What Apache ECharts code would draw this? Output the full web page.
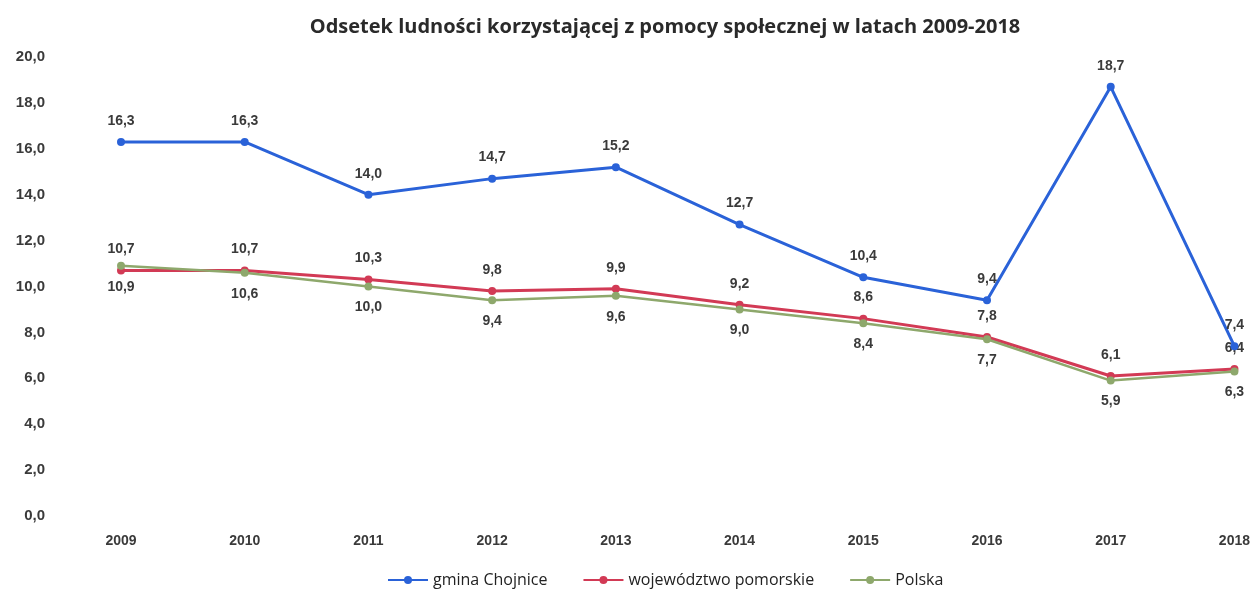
<!DOCTYPE html>
<html>
<head>
<meta charset="utf-8">
<script src="https://cdn.jsdelivr.net/npm/echarts@6/dist/echarts.min.js"></script>
<style>
  html, body { margin: 0; padding: 0; background: #fff; }
  #chart { width: 1253px; height: 589px; }
</style>
</head>
<body>
<div id="chart"></div>
<script>
const years = ['2009', '2010', '2011', '2012', '2013', '2014', '2015', '2016', '2017', '2018']
const gminaChojnice = [16.3, 16.3, 14.0, 14.7, 15.2, 12.7, 10.4, 9.4, 18.7, 7.4]
const wojPomorskie = [10.7, 10.7, 10.3, 9.8, 9.9, 9.2, 8.6, 7.8, 6.1, 6.4]
const polska = [10.9, 10.6, 10.0, 9.4, 9.6, 9.0, 8.4, 7.7, 5.9, 6.3]

const fmt = v => Number(v).toFixed(1).replace('.', ',')
const labelFont = { fontFamily: 'Liberation Sans, Arial', fontSize: 14, fontWeight: 'bold', color: '#3a3a3a' }

const myChart = echarts.init(document.getElementById('chart'))
myChart.setOption({
  animation: false,
  title: {
    text: 'Odsetek ludności korzystającej z pomocy społecznej w latach 2009-2018',
    left: 660,
    textAlign: 'center',
    top: 12,
    textStyle: { fontFamily: 'Open Sans', fontSize: 20, fontWeight: 'bold', color: '#2a2a2a' }
  },
  legend: {
    bottom: -4,
    left: 382,
    itemWidth: 40,
    itemHeight: 10,
    itemGap: 35,
    textStyle: { fontFamily: 'Open Sans', fontSize: 16, color: '#222' },
    data: ['gmina Chojnice', 'województwo pomorskie', 'Polska']
  },
  grid: { left: 121, right: 17, top: 57, bottom: 73 },
  xAxis: {
    type: 'category',
    boundaryGap: false,
    data: years,
    axisLine: { show: false },
    axisTick: { show: false },
    axisLabel: { margin: 18, ...labelFont }
  },
  yAxis: {
    type: 'value',
    min: 0,
    max: 20,
    interval: 2,
    splitLine: { show: false },
    axisLabel: { margin: 76, formatter: fmt, ...labelFont, fontSize: 15 }
  },
  series: [
    {
      name: 'gmina Chojnice',
      type: 'line',
      data: gminaChojnice,
      symbol: 'circle',
      symbolSize: 8,
      itemStyle: { color: '#2a62d8' },
      lineStyle: { width: 3 },
      label: { show: true, position: 'top', distance: 10, formatter: p => fmt(p.value), ...labelFont },
      z: 3
    },
    {
      name: 'województwo pomorskie',
      type: 'line',
      data: wojPomorskie,
      symbol: 'circle',
      symbolSize: 8,
      itemStyle: { color: '#d23a55' },
      lineStyle: { width: 3 },
      label: { show: true, position: 'top', distance: 10, formatter: p => fmt(p.value), ...labelFont },
      z: 2
    },
    {
      name: 'Polska',
      type: 'line',
      data: polska,
      symbol: 'circle',
      symbolSize: 8,
      itemStyle: { color: '#8ea86c' },
      lineStyle: { width: 2.5 },
      label: { show: true, position: 'bottom', distance: 10, formatter: p => fmt(p.value), ...labelFont },
      z: 2
    }
  ]
})
</script>
</body>
</html>
